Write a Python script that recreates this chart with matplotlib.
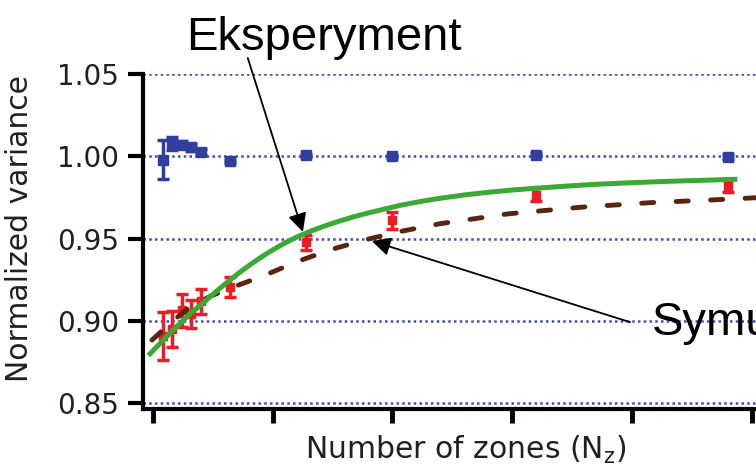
import numpy as np
import matplotlib
matplotlib.use("Agg")
import matplotlib.pyplot as plt

plt.rcParams['font.family'] = ['Liberation Sans', 'DejaVu Sans']

# Dane
n_zones = [2, 4, 6, 8, 10, 16, 32, 50, 80, 120]

# niebieskie punkty (ok. 1.0)
blue_y = [0.998, 1.008, 1.007, 1.0055, 1.0025, 0.997, 1.0005, 1.000, 1.001, 0.9995]
blue_err = [0.012, 0.004, 0.002, 0.002, 0.002, 0.001, 0.001, 0.001, 0.001, 0.001]

# czerwone punkty (eksperyment)
red_y = [0.891, 0.895, 0.9065, 0.904, 0.912, 0.9205, 0.9476, 0.961, 0.9767, 0.982]
red_err = [0.0146, 0.011, 0.010, 0.0085, 0.0076, 0.006, 0.0045, 0.005, 0.004, 0.0035]

# zielona krzywa
green_x = [-0.6, 0, 2, 4, 6, 8, 10, 12, 14, 16, 18, 20, 22, 24, 26, 28, 30, 33, 36, 39,
           42, 45, 48, 52, 56, 60, 65, 70, 75, 80, 86, 92, 98, 104, 110, 116, 121.5]
green_y = [0.8800, 0.8818, 0.8878, 0.8937, 0.8994, 0.9049, 0.9097, 0.9148, 0.9198, 0.9246,
           0.9292, 0.9335, 0.9375, 0.9413, 0.9448, 0.9480, 0.9509, 0.9546, 0.9578, 0.9607,
           0.9633, 0.9656, 0.9677, 0.9704, 0.9726, 0.9745, 0.9765, 0.9781, 0.9795, 0.9806,
           0.9818, 0.9829, 0.9837, 0.9844, 0.9850, 0.9855, 0.9860]

# brazowa krzywa przerywana (symulacja)
brown_x = [-0.2, 4, 7.3, 12, 16.7, 22.8, 30.1, 37.4, 44.7, 52, 59.9, 74.1, 89.2, 103.8,
           118.4, 125.9]
brown_y = [0.8883, 0.8995, 0.9075, 0.9150, 0.9205, 0.9270, 0.9360, 0.9435, 0.9495, 0.9545,
           0.9590, 0.9650, 0.9690, 0.9718, 0.9737, 0.9748]

yticks = [0.85, 0.90, 0.95, 1.00, 1.05]
xticks = [0, 25, 50, 75, 100, 125]

fig = plt.figure(figsize=(7.56, 4.66), dpi=100)
ax = fig.add_axes([0.189, 0.1223, 0.811, 0.7189])

txt_col = '#231f20'
axis_font = 'DejaVu Sans'

# linie siatki
for yv in yticks:
    ax.axhline(yv, color='#4848bc', lw=1.8, ls=(0, (1, 1.3)), zorder=1)

ax.plot(brown_x, brown_y, color='#5c2410', lw=3.5, dashes=(2.5, 4.6),
        dash_capstyle='round', zorder=3)
ax.plot(green_x, green_y, color='#3aaa35', lw=3.6, zorder=4)

ax.errorbar(n_zones, blue_y, yerr=blue_err, fmt='s', color='#2e3f9e', ms=7.5,
            elinewidth=2.5, capsize=4, capthick=2.5, zorder=5)
ax.errorbar(n_zones, red_y, yerr=red_err, fmt='s', color='#ec1c24', ms=5.5,
            elinewidth=2.5, capsize=4, capthick=2.5, zorder=2)

ax.set_xlim(-2.1, 125.9)
ax.set_ylim(0.8464, 1.05)
ax.set_yticks(yticks)
ax.set_yticklabels(['%.2f' % v for v in yticks], fontfamily=axis_font)
ax.set_xticks(xticks)
ax.set_xticklabels([])

for s in ['top', 'right']:
    ax.spines[s].set_visible(False)
for s in ['left', 'bottom']:
    ax.spines[s].set_linewidth(3)
    ax.spines[s].set_color('black')
ax.tick_params(axis='y', length=11, width=3, labelsize=20, labelcolor=txt_col, pad=6)
ax.tick_params(axis='x', length=10, width=3.5)

ax.set_ylabel('Normalized variance', fontsize=21.5, color=txt_col, fontfamily=axis_font)
ax.yaxis.set_label_coords(-0.178, 0.54)
ax.set_xlabel('Number of zones (N$_\\mathregular{z}$)', fontsize=21.5, color=txt_col,
              fontfamily=axis_font)
ax.xaxis.set_label_coords(0.527, -0.075)

# podpisy ze strzalkami
ax.text(7.0, 1.0646, 'Eksperyment', fontsize=34, ha='left', va='baseline', clip_on=False)
ax.annotate('', xy=(31.3, 0.954), xytext=(19.8, 1.0597),
            arrowprops=dict(arrowstyle='-|>', color='black', lw=1.3,
                            mutation_scale=28, shrinkA=0, shrinkB=0),
            annotation_clip=False, zorder=6)

ax.text(104.2, 0.8913, 'Symulacja', fontsize=34, ha='left', va='baseline', clip_on=False)
ax.annotate('', xy=(45.7, 0.9485), xytext=(99.6, 0.8992),
            arrowprops=dict(arrowstyle='-|>', color='black', lw=1.3,
                            mutation_scale=28, shrinkA=0, shrinkB=0),
            annotation_clip=False, zorder=6)

fig.savefig('out.png', dpi=100)
